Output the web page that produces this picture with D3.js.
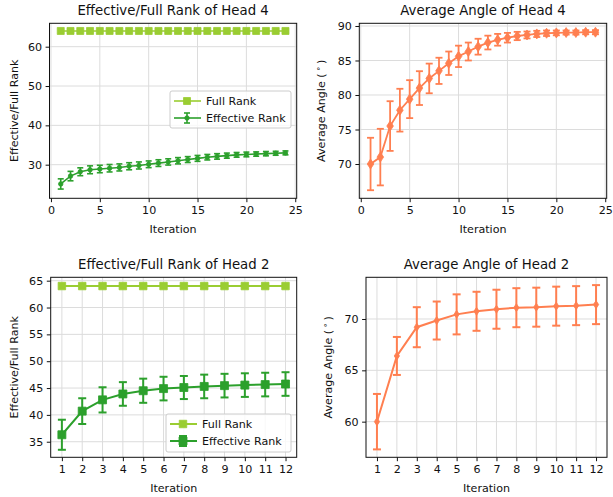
<!DOCTYPE html>
<html>
<head>
<meta charset="utf-8">
<script src="https://cdn.jsdelivr.net/npm/d3@7"></script>
<style>
  body { margin: 0; background: #fff; }
  text { font-family: "DejaVu Sans", sans-serif; fill: #111; }
</style>
</head>
<body>
<div id="chart"></div>
<script>
// ---- data ----
var iter24 = [1,2,3,4,5,6,7,8,9,10,11,12,13,14,15,16,17,18,19,20,21,22,23,24];
var iter12 = [1,2,3,4,5,6,7,8,9,10,11,12];

var head4Full = [64,64,64,64,64,64,64,64,64,64,64,64,64,64,64,64,64,64,64,64,64,64,64,64];
var head4Rank = [25.1,27.1,28.2,28.7,28.9,29.1,29.3,29.6,29.8,30.1,30.4,30.7,31.0,31.3,31.6,31.9,32.1,32.3,32.5,32.6,32.7,32.8,32.9,33.0];
var head4RankErr = [1.3,1.2,1.0,1.0,0.95,0.95,0.9,0.9,0.9,0.85,0.85,0.8,0.8,0.75,0.75,0.7,0.7,0.65,0.6,0.6,0.55,0.55,0.5,0.5];

var head4Angle = [70.0,71.0,75.5,77.8,79.4,81.0,82.4,83.5,84.6,85.6,86.3,87.0,87.6,88.0,88.3,88.55,88.7,88.85,88.95,89.0,89.05,89.05,89.1,89.1];
var head4AngleErr = [3.8,4.1,3.6,3.1,2.75,2.45,2.15,1.9,1.7,1.55,1.3,1.15,1.0,0.85,0.7,0.6,0.5,0.45,0.4,0.35,0.3,0.3,0.3,0.3];

var head2Full = [64,64,64,64,64,64,64,64,64,64,64,64];
var head2Rank = [36.3,40.7,42.8,43.9,44.5,44.9,45.1,45.3,45.45,45.55,45.65,45.75];
var head2RankErr = [2.8,2.4,2.35,2.2,2.25,2.2,2.15,2.2,2.2,2.2,2.2,2.2];

var head2Angle = [60.0,66.4,69.2,69.85,70.45,70.75,70.95,71.1,71.15,71.25,71.3,71.4];
var head2AngleErr = [2.7,1.85,1.95,1.85,1.95,1.9,1.9,1.9,1.9,1.9,1.9,1.9];

var xTicks24 = [0,5,10,15,20,25];
var yTicksRank4 = [30,40,50,60];
var yTicksAngle4 = [70,75,80,85,90];
var yTicksRank2 = [35,40,45,50,55,60,65];
var yTicksAngle2 = [60,65,70];

var fullColor = "#9acd32", rankColor = "#2ca02c", angleColor = "#ff7f50";
var fs = 11.1, titleFs = 13.3;

var svg = d3.select("#chart").append("svg")
  .attr("width", 613)
  .attr("height", 497);

// marker path centered at 0,0
function markerPath(kind, s) {
  if (kind == "square") return "M" + (-s/2) + "," + (-s/2) + "h" + s + "v" + s + "h" + (-s) + "Z";
  if (kind == "thin") return "M0," + (-s/2) + "L" + (s*0.33) + ",0L0," + (s/2) + "L" + (-s*0.33) + ",0Z";
  // circle
  var r = s/2;
  return "M" + (-r) + ",0a" + r + "," + r + " 0 1,0 " + (2*r) + ",0a" + r + "," + r + " 0 1,0 " + (-2*r) + ",0";
}

function drawPanel(p) {
  var g = svg.append("g");
  var x = d3.scaleLinear().domain(p.xDomain).range([p.left, p.right]);
  var y = d3.scaleLinear().domain(p.yDomain).range([p.bottom, p.top]);

  // grid
  g.selectAll(".gx").data(p.xTicks).enter().append("line")
    .attr("x1", d => x(d)).attr("x2", d => x(d))
    .attr("y1", p.top).attr("y2", p.bottom)
    .attr("stroke", "#dcdcdc").attr("stroke-width", 1);
  g.selectAll(".gy").data(p.yTicks).enter().append("line")
    .attr("x1", p.left).attr("x2", p.right)
    .attr("y1", d => y(d)).attr("y2", d => y(d))
    .attr("stroke", "#dcdcdc").attr("stroke-width", 1);

  // axes
  var xa = g.append("g")
    .attr("transform", "translate(0," + p.bottom + ")")
    .call(d3.axisBottom(x).tickValues(p.xTicks).tickSize(3.9).tickPadding(3.6).tickFormat(d3.format("d")));
  var ya = g.append("g")
    .attr("transform", "translate(" + p.left + ",0)")
    .call(d3.axisLeft(y).tickValues(p.yTicks).tickSize(3.9).tickPadding(3.6).tickFormat(d3.format("d")));
  [xa, ya].forEach(function(a) {
    a.select(".domain").remove();
    a.selectAll("text").style("font-size", fs + "px").style("font-family", "DejaVu Sans").attr("fill", "#111");
    a.selectAll("line").attr("stroke", "#111");
  });

  // spines
  g.append("rect")
    .attr("x", p.left).attr("y", p.top)
    .attr("width", p.right - p.left).attr("height", p.bottom - p.top)
    .attr("fill", "none").attr("stroke", "#111").attr("stroke-width", 1);

  // series
  p.series.forEach(function(s) {
    var pts = s.values.map((v, i) => ({x: p.xs[i], y: v, e: s.err ? s.err[i] : 0}));
    if (s.err) {
      var eb = g.append("g");
      pts.forEach(function(d) {
        eb.append("line")
          .attr("x1", x(d.x)).attr("x2", x(d.x))
          .attr("y1", y(d.y - d.e)).attr("y2", y(d.y + d.e))
          .attr("stroke", s.color).attr("stroke-width", s.lw);
        [d.y - d.e, d.y + d.e].forEach(function(v) {
          eb.append("line")
            .attr("x1", x(d.x) - s.cap).attr("x2", x(d.x) + s.cap)
            .attr("y1", y(v)).attr("y2", y(v))
            .attr("stroke", s.color).attr("stroke-width", s.lw);
        });
      });
    }
    g.append("path")
      .datum(pts)
      .attr("fill", "none")
      .attr("stroke", s.color)
      .attr("stroke-width", s.lw)
      .attr("d", d3.line().x(d => x(d.x)).y(d => y(d.y)));
    g.selectAll(null).data(pts).enter().append("path")
      .attr("transform", d => "translate(" + x(d.x) + "," + y(d.y) + ")")
      .attr("d", markerPath(s.marker, s.ms))
      .attr("fill", s.color)
      .attr("stroke", s.color)
      .attr("stroke-width", 0.8);
  });

  // legend
  if (p.legend) {
    var L = p.legend;
    var lg = g.append("g");
    lg.append("rect")
      .attr("x", L.x).attr("y", L.y).attr("width", L.w).attr("height", L.h)
      .attr("rx", 2).attr("fill", "#fff").attr("fill-opacity", 0.8)
      .attr("stroke", "#cccccc").attr("stroke-width", 1);
    p.series.forEach(function(s, i) {
      var cy = L.y + 10 + i * 17;
      var cx = L.x + 17;
      lg.append("line")
        .attr("x1", L.x + 4).attr("x2", L.x + 31)
        .attr("y1", cy).attr("y2", cy)
        .attr("stroke", s.color).attr("stroke-width", s.lw);
      if (s.err) {
        lg.append("line").attr("x1", cx).attr("x2", cx).attr("y1", cy - 5).attr("y2", cy + 5)
          .attr("stroke", s.color).attr("stroke-width", s.lw);
        [cy - 5, cy + 5].forEach(function(v) {
          lg.append("line").attr("x1", cx - s.cap).attr("x2", cx + s.cap).attr("y1", v).attr("y2", v)
            .attr("stroke", s.color).attr("stroke-width", s.lw);
        });
      }
      lg.append("path")
        .attr("transform", "translate(" + cx + "," + cy + ")")
        .attr("d", markerPath(s.marker, s.ms))
        .attr("fill", s.color).attr("stroke", s.color).attr("stroke-width", 0.8);
      lg.append("text")
        .attr("x", L.x + 36).attr("y", cy + 4)
        .style("font-size", fs + "px")
        .text(s.name);
    });
  }

  // title and labels
  g.append("text")
    .attr("x", (p.left + p.right) / 2).attr("y", p.top - 8)
    .attr("text-anchor", "middle")
    .style("font-size", titleFs + "px")
    .text(p.title);
  g.append("text")
    .attr("x", (p.left + p.right) / 2).attr("y", p.bottom + 35)
    .attr("text-anchor", "middle")
    .style("font-size", fs + "px")
    .text("Iteration");
  var yl = g.append("text")
    .attr("transform", "translate(" + p.yLabelX + "," + ((p.top + p.bottom) / 2) + ") rotate(-90)")
    .attr("text-anchor", "middle")
    .style("font-size", fs + "px");
  if (p.angle) {
    yl.append("tspan").text("Average Angle (\u2009");
    yl.append("tspan").attr("dy", -4).style("font-size", "8px").text("\u2218");
    yl.append("tspan").attr("dy", 4).text("\u2009)");
  } else {
    yl.text(p.yLabel);
  }
}

drawPanel({
  title: "Effective/Full Rank of Head 4", yLabel: "Effective/Full Rank", yLabelX: 17.5,
  left: 49.5, right: 296.7, top: 23.3, bottom: 198.3,
  xDomain: [-0.15, 25.15], yDomain: [21.45, 65.95],
  xTicks: xTicks24, yTicks: yTicksRank4, xs: iter24,
  series: [
    {name: "Full Rank", values: head4Full, color: fullColor, marker: "square", ms: 7, lw: 1.6},
    {name: "Effective Rank", values: head4Rank, err: head4RankErr, color: rankColor, marker: "circle", ms: 4.5, lw: 1.6, cap: 3}
  ],
  legend: {x: 170, y: 91, w: 121, h: 37}
});

drawPanel({
  title: "Average Angle of Head 4", angle: true, yLabelX: 324.5,
  left: 359.3, right: 606.7, top: 23.3, bottom: 198.3,
  xDomain: [-0.15, 25.15], yDomain: [65.03, 90.39],
  xTicks: xTicks24, yTicks: yTicksAngle4, xs: iter24,
  series: [
    {name: "Angle", values: head4Angle, err: head4AngleErr, color: angleColor, marker: "thin", ms: 10, lw: 1.8, cap: 3.5}
  ]
});

drawPanel({
  title: "Effective/Full Rank of Head 2", yLabel: "Effective/Full Rank", yLabelX: 17.5,
  left: 50.7, right: 296.7, top: 277.3, bottom: 457.3,
  xDomain: [0.45, 12.55], yDomain: [32.1, 65.63],
  xTicks: iter12, yTicks: yTicksRank2, xs: iter12,
  series: [
    {name: "Full Rank", values: head2Full, color: fullColor, marker: "square", ms: 7.5, lw: 2, cap: 4},
    {name: "Effective Rank", values: head2Rank, err: head2RankErr, color: rankColor, marker: "square", ms: 8, lw: 2, cap: 4}
  ],
  legend: {x: 166, y: 414, w: 125, h: 38}
});

drawPanel({
  title: "Average Angle of Head 2", angle: true, yLabelX: 331.5,
  left: 366, right: 607, top: 277.3, bottom: 457.3,
  xDomain: [0.45, 12.55], yDomain: [56.53, 74.06],
  xTicks: iter12, yTicks: yTicksAngle2, xs: iter12,
  series: [
    {name: "Angle", values: head2Angle, err: head2AngleErr, color: angleColor, marker: "thin", ms: 8, lw: 2, cap: 4}
  ]
});
</script>
</body>
</html>
